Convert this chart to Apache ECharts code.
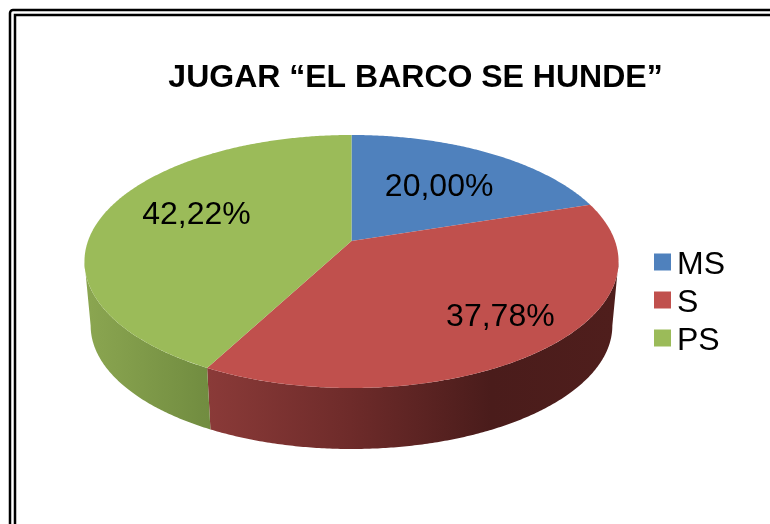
<!DOCTYPE html>
<html><head><meta charset="utf-8">
<style>html,body{margin:0;padding:0;background:#fff}#c{width:770px;height:524px}</style>
<script src="https://cdn.jsdelivr.net/npm/echarts@6/dist/echarts.min.js"></script>
</head><body><div id="c"></div>
<script>
const categories = ['MS', 'S', 'PS'];
const values = [20.00, 37.78, 42.22];
const colors = ['#4F81BD', '#C0504D', '#9BBB59'];
const chartTitle = 'JUGAR “EL BARCO SE HUNDE”';

// perspective disc geometry
const geo = {cx: 351.5, top: {y0: 241, a: 263.5, b: 123.2}, bottom: {y0: 305.7, a: 257.4, b: 120.1}, k: 0.162};
const sideRange = [99.3, 260.7];
const labelReach = [[0.64, 0.616], [0.77, 0.71], [0.63, 0.91]];
const sideStops = [
  null,
  [[0, '#8A3A38'], [0.35, '#6E2B2A'], [0.7, '#4A1C1B'], [1, '#4F1E1C']],
  [[0, '#8AA550'], [1, '#718C40']]
];
const sideSpan = [null, [209, 612], [90, 209]];

const total = values.reduce((s, v) => s + v, 0);
function unit(deg) {
  const t = deg * Math.PI / 180, u = Math.sin(t), v = -Math.cos(t), d = 1 - geo.k * v;
  return [u / d, v / d];
}
function pt(deg, f) {
  const [x, y] = unit(deg);
  return [geo.cx + f.a * x, f.y0 + f.b * y];
}
function arc(a0, a1, f) {
  const out = [], n = Math.max(2, Math.ceil(Math.abs(a1 - a0) * 2));
  for (let i = 0; i <= n; i++) out.push(pt(a0 + (a1 - a0) * i / n, f));
  return out;
}
function sliceRender(index) {
  return function () {
    const before = values.slice(0, index).reduce((s, v) => s + v, 0);
    const a0 = before / total * 360, a1 = (before + values[index]) / total * 360;
    const children = [];
    const s0 = Math.max(a0, sideRange[0]), s1 = Math.min(a1, sideRange[1]);
    if (s1 > s0 && sideStops[index]) {
      const pts = arc(s0, s1, geo.top).concat(arc(s1, s0, geo.bottom));
      children.push({
        type: 'polygon', shape: {points: pts},
        style: {fill: new echarts.graphic.LinearGradient(sideSpan[index][0], 0, sideSpan[index][1], 0,
          sideStops[index].map(s => ({offset: s[0], color: s[1]})), true)}
      });
    }
    children.push({
      type: 'polygon',
      shape: {points: [[geo.cx, geo.top.y0]].concat(arc(a0, a1, geo.top))},
      style: {fill: colors[index]}
    });
    const mid = (a0 + a1) / 2, [ux, uy] = unit(mid);
    children.push({
      type: 'text', z2: 100,
      style: {
        x: geo.cx + geo.top.a * ux * labelReach[index][0],
        y: geo.top.y0 + geo.top.b * uy * labelReach[index][1],
        text: values[index].toFixed(2).replace('.', ',') + '%',
        fill: '#000', font: '32px "Liberation Sans"', align: 'center', verticalAlign: 'middle'
      }
    });
    return {type: 'group', children};
  };
}
const chart = echarts.init(document.getElementById('c'), null, {renderer: 'canvas'});
chart.setOption({
  animation: false,
  backgroundColor: '#fff',
  title: {
    text: chartTitle, left: 410.5, top: 57, textAlign: 'center',
    textStyle: {fontFamily: 'Liberation Sans', fontWeight: 'bold', fontSize: 32, color: '#000'}
  },
  legend: {
    left: 654, top: 243, orient: 'vertical', icon: 'rect', padding: 0,
    itemWidth: 17, itemHeight: 17, itemGap: 0, data: categories,
    formatter: '{a|{name}}',
    textStyle: {rich: {a: {fontFamily: 'Liberation Sans', fontSize: 32, color: '#000', lineHeight: 32, padding: [6, 0, 0, 1]}}}
  },
  graphic: [
    {type: 'rect', silent: true, shape: {x: 10, y: 10, width: 1000, height: 1000, r: 3}, style: {fill: 'none', stroke: '#000', lineWidth: 2.5}},
    {type: 'rect', silent: true, shape: {x: 15, y: 15, width: 1000, height: 1000}, style: {fill: 'none', stroke: '#000', lineWidth: 2.5}}
  ],
  series: categories.map((name, i) => ({
    type: 'custom', name, coordinateSystem: 'none',
    itemStyle: {color: colors[i]},
    data: [values[i]],
    renderItem: sliceRender(i)
  }))
});
</script></body></html>
